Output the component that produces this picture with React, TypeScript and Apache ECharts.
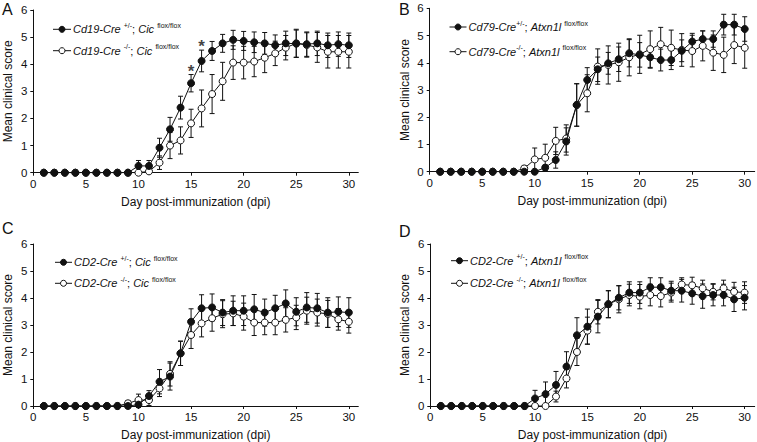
import React, { useEffect, useRef } from "react";
import * as echarts from "echarts";

const days = [1,2,3,4,5,6,7,8,9,10,11,12,13,14,15,16,17,18,19,20,21,22,23,24,25,26,27,28,29,30];
const xTicks = [0, 5, 10, 15, 20, 25, 30];

// Panel A
const aHet = [0,0,0,0,0,0,0,0,0,0.25,0.25,0.92,1.6,2.4,3.3,4.12,4.49,4.77,4.9,4.86,4.81,4.77,4.7,4.77,4.76,4.74,4.77,4.7,4.74,4.7];
const aHetErr = [0,0,0,0,0,0,0,0,0,0.2,0.2,0.35,0.44,0.42,0.32,0.4,0.35,0.33,0.35,0.35,0.38,0.4,0.38,0.45,0.5,0.45,0.45,0.45,0.45,0.45];
const aKo = [0,0,0,0,0,0,0,0,0,0,0.05,0.37,1.0,1.19,1.82,2.37,2.9,3.37,4.06,4.06,4.1,4.24,4.4,4.61,4.77,4.71,4.62,4.46,4.46,4.46];
const aKoErr = [0,0,0,0,0,0,0,0,0,0,0,0.25,0.48,0.5,0.52,0.68,0.72,0.7,0.62,0.6,0.56,0.55,0.45,0.45,0.52,0.45,0.55,0.6,0.6,0.6];
const aStars = [[15, 3.62], [16, 4.52]];

// Panel B
const bHet = [0,0,0,0,0,0,0,0,0,0,0.15,0.43,1.11,2.45,3.37,3.76,3.98,4.13,4.35,4.29,4.2,4.1,4.1,4.44,4.78,4.87,4.87,5.4,5.4,5.24];
const bHetErr = [0,0,0,0,0,0,0,0,0,0,0.1,0.3,0.5,0.78,0.45,0.45,0.4,0.45,0.5,0.45,0.4,0.4,0.35,0.4,0.3,0.3,0.3,0.38,0.38,0.45];
const bKo = [0,0,0,0,0,0,0,0,0.12,0.45,0.51,1.13,1.22,2.45,2.88,3.86,3.92,4.02,4.2,4.31,4.5,4.68,4.55,4.47,4.43,4.62,4.37,4.29,4.65,4.55];
const bKoErr = [0,0,0,0,0,0,0,0,0.1,0.42,0.5,0.5,0.5,0.78,0.68,0.65,0.7,0.7,0.68,0.7,0.67,0.62,0.65,0.6,0.58,0.55,0.65,0.65,0.68,0.75];

// Panel C
const cHet = [0,0,0,0,0,0,0,0,0,0.05,0.37,0.9,1.09,1.95,3.12,3.62,3.65,3.46,3.53,3.53,3.58,3.46,3.62,3.8,3.49,3.65,3.62,3.46,3.49,3.46];
const cHetErr = [0,0,0,0,0,0,0,0,0.05,0.1,0.2,0.45,0.5,0.45,0.48,0.5,0.5,0.48,0.55,0.55,0.55,0.5,0.48,0.5,0.52,0.55,0.55,0.55,0.55,0.55];
const cKo = [0,0,0,0,0,0,0,0,0.1,0.22,0.22,0.65,1.19,1.95,2.63,3.06,3.25,3.4,3.43,3.31,3.09,3.09,3.09,3.19,3.28,3.53,3.46,3.41,3.21,3.12];
const cKoErr = [0,0,0,0,0,0,0,0,0.1,0.22,0.2,0.3,0.45,0.45,0.5,0.5,0.48,0.5,0.45,0.5,0.48,0.45,0.45,0.45,0.45,0.5,0.5,0.5,0.4,0.42];

// Panel D
const dHet = [0,0,0,0,0,0,0,0,0,0.28,0.44,0.78,1.46,2.62,2.94,3.31,3.77,4.01,4.2,4.2,4.4,4.4,4.27,4.27,4.17,4.07,4.11,4.11,3.95,4.01];
const dHetErr = [0,0,0,0,0,0,0,0,0,0.3,0.45,0.5,0.55,0.65,0.65,0.6,0.5,0.45,0.4,0.4,0.35,0.35,0.35,0.42,0.4,0.45,0.4,0.4,0.45,0.45];
const dKo = [0,0,0,0,0,0,0,0,0,0,0,0.35,1.02,2.0,2.79,3.49,3.77,3.95,4.11,4.05,4.11,4.07,4.2,4.5,4.47,4.36,4.23,4.36,4.23,4.2];
const dKoErr = [0,0,0,0,0,0,0,0,0,0,0,0.2,0.35,0.5,0.5,0.45,0.5,0.5,0.4,0.45,0.4,0.4,0.35,0.25,0.3,0.3,0.3,0.3,0.35,0.4];

const panelLetters = ["A", "B", "C", "D"];
const legendNames = [
  ["Cd19-Cre +/-; Cic flox/flox", "Cd19-Cre -/-; Cic flox/flox"],
  ["Cd79-Cre+/-; Atxn1l flox/flox", "Cd79-Cre-/-; Atxn1l flox/flox"],
  ["CD2-Cre +/-; Cic flox/flox", "CD2-Cre -/-; Cic flox/flox"],
  ["CD2-Cre +/-; Atxn1l flox/flox", "CD2-Cre -/-; Atxn1l flox/flox"],
];
const legendRichText = [
  ["{i|Cd19-Cre }{s|+/-}{n|; }{i|Cic }{s|flox/flox}", "{i|Cd19-Cre }{s|-/-}{n|; }{i|Cic }{s|flox/flox}"],
  ["{i|Cd79-Cre}{s|+/-}{n|; }{i|Atxn1l }{s|flox/flox}", "{i|Cd79-Cre}{s|-/-}{n|; }{i|Atxn1l }{s|flox/flox}"],
  ["{i|CD2-Cre }{s|+/-}{n|; }{i|Cic }{s|flox/flox}", "{i|CD2-Cre }{s|-/-}{n|; }{i|Cic }{s|flox/flox}"],
  ["{i|CD2-Cre }{s|+/-}{n|; }{i|Atxn1l }{s|flox/flox}", "{i|CD2-Cre }{s|-/-}{n|; }{i|Atxn1l }{s|flox/flox}"],
];

const panels = [
  { het: aHet, hetErr: aHetErr, ko: aKo, koErr: aKoErr },
  { het: bHet, hetErr: bHetErr, ko: bKo, koErr: bKoErr },
  { het: cHet, hetErr: cHetErr, ko: cKo, koErr: cKoErr },
  { het: dHet, hetErr: dHetErr, ko: dKo, koErr: dKoErr },
];

const FONT = "'Liberation Sans', Arial, Helvetica, sans-serif";
const INK = "#111";

const grids = [
  { left: 33.3, top: 10, width: 325, height: 162.7 },
  { left: 429.7, top: 8.3, width: 325, height: 163.4 },
  { left: 33.3, top: 244, width: 325, height: 162 },
  { left: 430.3, top: 244, width: 324.4, height: 162 },
];
const xMax = [30.9, 30.95, 30.9, 30.97];
// legend layout: line x-range, circle x, text x, row y's
const legendLayout = [
  { x1: 53, x2: 71, cx: 62, tx: 73, rows: [29.3, 50.7] },
  { x1: 449.5, x2: 466.5, cx: 458, tx: 468.5, rows: [27, 51.7] },
  { x1: 55, x2: 72, cx: 63.5, tx: 74, rows: [262.3, 283.3] },
  { x1: 451, x2: 468, cx: 459.5, tx: 470, rows: [260.7, 283.3] },
];
const letterPos = [
  { x: 2, y: 1 },
  { x: 399, y: 1 },
  { x: 2, y: 220 },
  { x: 399, y: 223 },
];

function errData(vals: number[], errs: number[]) {
  return days
    .map((d, i) => [d, vals[i] - errs[i], vals[i] + errs[i]])
    .filter((_, i) => errs[i] > 0);
}

function renderErr(_params: any, api: any) {
  const x = api.value(0);
  const lo = api.value(1);
  const hi = api.value(2);
  const top = api.coord([x, hi]);
  const bot = api.coord([x, lo]);
  const w = 2.5;
  const style = { stroke: INK, lineWidth: 1 };
  return {
    type: "group",
    children: [
      { type: "line", shape: { x1: top[0], y1: top[1], x2: bot[0], y2: bot[1] }, style },
      { type: "line", shape: { x1: top[0] - w, y1: top[1], x2: top[0] + w, y2: top[1] }, style },
      { type: "line", shape: { x1: bot[0] - w, y1: bot[1], x2: bot[0] + w, y2: bot[1] }, style },
    ],
  };
}

export default function App() {
  const ref = useRef<HTMLDivElement>(null);
  useEffect(() => {
    if (!ref.current) return;
    const chart = echarts.init(ref.current, null, { renderer: "svg" });

    const rich = {
      i: { fontStyle: "italic", fontWeight: "normal", fontSize: 11, fontFamily: FONT, fill: INK, lineHeight: 15 },
      n: { fontWeight: "normal", fontSize: 11, fontFamily: FONT, fill: INK, lineHeight: 15 },
      s: { fontWeight: "normal", fontSize: 7, fontFamily: FONT, fill: INK, verticalAlign: "top", lineHeight: 10 },
    };

    const series: any[] = [];
    panels.forEach((p, k) => {
      series.push({
        type: "custom",
        xAxisIndex: k,
        yAxisIndex: k,
        renderItem: renderErr,
        data: errData(p.het, p.hetErr),
        encode: { x: 0, y: [1, 2] },
        z: 1,
        silent: true,
      });
      series.push({
        type: "custom",
        xAxisIndex: k,
        yAxisIndex: k,
        renderItem: renderErr,
        data: errData(p.ko, p.koErr),
        encode: { x: 0, y: [1, 2] },
        z: 1,
        silent: true,
      });
      series.push({
        name: legendNames[k][0],
        type: "line",
        xAxisIndex: k,
        yAxisIndex: k,
        data: days.map((d, i) => [d, p.het[i]]),
        symbol: "circle",
        symbolSize: 7,
        lineStyle: { color: INK, width: 1 },
        itemStyle: { color: INK, borderColor: INK, borderWidth: 1 },
        z: 3,
      });
      series.push({
        name: legendNames[k][1],
        type: "line",
        xAxisIndex: k,
        yAxisIndex: k,
        data: days.map((d, i) => [d, p.ko[i]]),
        symbol: "circle",
        symbolSize: 7,
        lineStyle: { color: INK, width: 1 },
        itemStyle: { color: "#fff", borderColor: INK, borderWidth: 1 },
        z: 2,
      });
    });
    series.push({
      type: "scatter",
      xAxisIndex: 0,
      yAxisIndex: 0,
      data: aStars,
      symbolSize: 0,
      silent: true,
      label: {
        show: true,
        formatter: "*",
        position: "top",
        distance: 0,
        offset: [0, 5],
        fontSize: 17,
        fontWeight: "bold",
        fontFamily: FONT,
        color: INK,
      },
    });

    const graphic: any[] = [];
    panelLetters.forEach((t, k) => {
      graphic.push({
        type: "text",
        x: letterPos[k].x,
        y: letterPos[k].y,
        style: { text: t, font: `16px ${FONT}`, fill: INK },
      });
    });
    legendLayout.forEach((L, k) => {
      L.rows.forEach((ry, r) => {
        graphic.push({
          type: "line",
          shape: { x1: L.x1, y1: ry, x2: L.x2, y2: ry },
          style: { stroke: INK, lineWidth: 1 },
        });
        graphic.push({
          type: "circle",
          shape: { cx: L.cx, cy: ry, r: 3 },
          style: { fill: r === 0 ? INK : "#fff", stroke: INK, lineWidth: 1 },
        });
        graphic.push({
          type: "text",
          x: L.tx,
          y: ry,
          style: {
            text: legendRichText[k][r],
            rich,
            fill: INK,
            align: "left",
            verticalAlign: "middle",
          },
        });
      });
    });

    const option: any = {
      animation: false,
      backgroundColor: "#fff",
      grid: grids.map((g) => ({ ...g, containLabel: false })),
      xAxis: grids.map((_, k) => ({
        type: "value",
        gridIndex: k,
        min: 0,
        max: xMax[k],
        interval: 5,
        name: "Day post-immunization (dpi)",
        nameLocation: "middle",
        nameGap: 23,
        nameTextStyle: { fontSize: 12, fontFamily: FONT, color: INK },
        axisLine: { lineStyle: { color: INK, width: 1 } },
        axisTick: { show: true, length: 3, customValues: xTicks, lineStyle: { color: INK } },
        axisLabel: { customValues: xTicks, fontSize: 11.5, fontFamily: FONT, color: INK, margin: 5 },
        splitLine: { show: false },
      })),
      yAxis: grids.map((_, k) => ({
        type: "value",
        gridIndex: k,
        min: 0,
        max: 6,
        interval: 1,
        name: "Mean clinical score",
        nameLocation: "middle",
        nameGap: 19,
        nameTextStyle: { fontSize: 12, fontFamily: FONT, color: INK },
        axisLine: { show: true, lineStyle: { color: INK, width: 1 } },
        axisTick: { show: true, length: 3, lineStyle: { color: INK } },
        axisLabel: { fontSize: 11.5, fontFamily: FONT, color: INK, margin: 6 },
        splitLine: { show: false },
      })),
      graphic,
      series,
    };
    chart.setOption(option);
    return () => chart.dispose();
  }, []);
  return (
    <div
      ref={ref}
      style={{ position: "absolute", left: 0, top: 0, width: 757, height: 442, background: "#fff" }}
    />
  );
}
